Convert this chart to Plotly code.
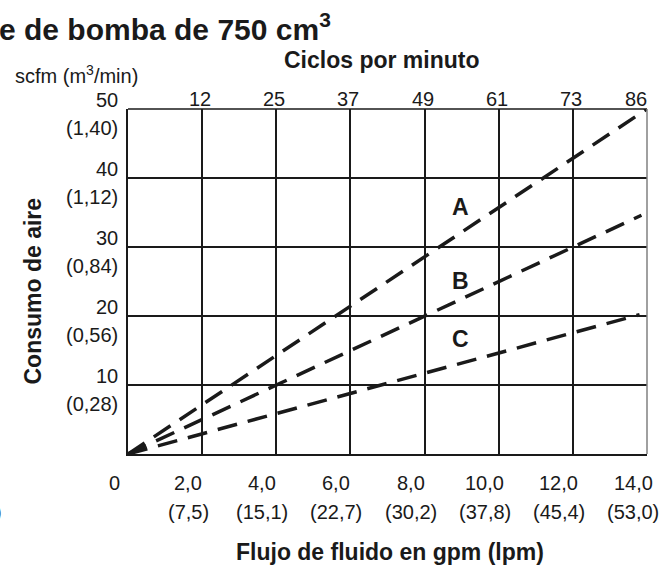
import plotly.graph_objects as go

# ---- data ----
gpm_ticks = [0, 2, 4, 6, 8, 10, 12, 14]
gpm_labels = ["0", "2,0", "4,0", "6,0", "8,0", "10,0", "12,0", "14,0"]
lpm_labels = ["", "(7,5)", "(15,1)", "(22,7)", "(30,2)", "(37,8)", "(45,4)", "(53,0)"]
cycle_pos = [2, 4, 6, 8, 10, 12, 14]
cycle_labels = ["12", "25", "37", "49", "61", "73", "86"]
scfm_ticks = [10, 20, 30, 40, 50]
scfm_labels = ["10", "20", "30", "40", "50"]
m3_labels = ["(0,28)", "(0,56)", "(0,84)", "(1,12)", "(1,40)"]

flow_A = [0, 14.0]
air_A = [0, 50.0]
flow_B = [0, 13.85]
air_B = [0, 34.6]
flow_C = [0, 13.8]
air_C = [0, 20.2]

curve_names = ["A", "B", "C"]
label_x = [8.96, 8.96, 8.96]
label_y = [35.8, 25.1, 16.7]

FONT = "Liberation Sans, Arial, sans-serif"
INK = "#1a1a1a"
TICK = 20
BOLD = 23

fig = go.Figure()
for xs, ys, nm in [(flow_A, air_A, "A"), (flow_B, air_B, "B"), (flow_C, air_C, "C")]:
    fig.add_trace(go.Scatter(x=xs, y=ys, mode="lines", name=nm,
                             line=dict(color=INK, width=3.5, dash="20px,11px"),
                             showlegend=False, hoverinfo="skip"))

ann = []
for nm, lx, ly in zip(curve_names, label_x, label_y):
    ann.append(dict(x=lx, y=ly, xref="x", yref="y", text=f"<b>{nm}</b>", showarrow=False,
                    font=dict(size=BOLD, color=INK, family=FONT)))
for v, t1, t2 in zip(gpm_ticks, gpm_labels, lpm_labels):
    ann.append(dict(x=v, y=0, xref="x", yref="paper", text=t1, showarrow=False,
                    xanchor="center", xshift=-14, yshift=-29, yanchor="middle",
                    font=dict(size=TICK, color=INK, family=FONT)))
    if t2:
        ann.append(dict(x=v, y=0, xref="x", yref="paper", text=t2, showarrow=False,
                        xanchor="center", xshift=-14, yshift=-58, yanchor="middle",
                        font=dict(size=TICK, color=INK, family=FONT)))
for v, t in zip(cycle_pos, cycle_labels):
    ann.append(dict(x=v, y=1, xref="x", yref="paper", text=t, showarrow=False,
                    xanchor="center", xshift=-11 if v == 14 else -2, yshift=10, yanchor="middle",
                    font=dict(size=TICK, color=INK, family=FONT)))
for v, t1, t2 in zip(scfm_ticks, scfm_labels, m3_labels):
    ann.append(dict(x=0, y=v, xref="paper", yref="y", text=t1, showarrow=False,
                    xanchor="right", xshift=-8, yshift=9, yanchor="middle",
                    font=dict(size=TICK, color=INK, family=FONT)))
    ann.append(dict(x=0, y=v, xref="paper", yref="y", text=t2, showarrow=False,
                    xanchor="right", xshift=-8, yshift=-19, yanchor="middle",
                    font=dict(size=TICK, color=INK, family=FONT)))

# paper x=0 -> px 128, y=0 -> px 454, y=1 -> px 109
ann.append(dict(x=0, y=1, xref="paper", yref="paper",
                text="<b>e de bomba de 750 cm<sup>3</sup></b>",
                showarrow=False, xanchor="left", xshift=-131, yanchor="middle", yshift=82,
                font=dict(size=30, color=INK, family=FONT)))
ann.append(dict(x=0.5, y=1, xref="paper", yref="paper", text="<b>Ciclos por minuto</b>",
                showarrow=False, xanchor="center", xshift=-6, yshift=49, yanchor="middle",
                font=dict(size=BOLD, color=INK, family=FONT)))
ann.append(dict(x=0, y=1, xref="paper", yref="paper", text="scfm (m<sup>3</sup>/min)",
                showarrow=False, xanchor="center", xshift=-52, yshift=35, yanchor="middle",
                font=dict(size=TICK, color=INK, family=FONT)))
ann.append(dict(x=0, y=0.5, xref="paper", yref="paper", text="<b>Consumo de aire</b>",
                showarrow=False, textangle=-90, xanchor="center", yanchor="middle",
                xshift=-96, yshift=-10,
                font=dict(size=BOLD, color=INK, family=FONT)))
ann.append(dict(x=0.5, y=0, xref="paper", yref="paper", text="<b>Flujo de fluido en gpm (lpm)</b>",
                showarrow=False, xanchor="center", xshift=2, yshift=-98, yanchor="middle",
                font=dict(size=BOLD, color=INK, family=FONT)))
ann.append(dict(x=0, y=0, xref="paper", yref="paper", text=")",
                showarrow=False, xanchor="right", xshift=-124, yshift=-58, yanchor="middle",
                font=dict(size=TICK, color=INK, family=FONT)))

shapes = [
    dict(type="line", xref="paper", yref="paper", x0=0, x1=1, y0=1, y1=1,
         line=dict(color=INK, width=1.5)),
    dict(type="line", xref="paper", yref="paper", x0=1, x1=1, y0=0, y1=1,
         line=dict(color="#808080", width=1.5)),
]

fig.update_layout(
    width=672, height=569,
    margin=dict(l=128, r=25, t=109, b=115),
    paper_bgcolor="white", plot_bgcolor="white",
    font=dict(family=FONT, color=INK),
    xaxis=dict(range=[0, 14], tick0=0, dtick=2, showgrid=True, gridcolor=INK, gridwidth=1.5,
               showticklabels=False, ticks="", zeroline=False, showline=True,
               linecolor=INK, linewidth=1.5, fixedrange=True),
    yaxis=dict(range=[0, 50], tick0=0, dtick=10, showgrid=True, gridcolor=INK, gridwidth=1.5,
               showticklabels=False, ticks="", zeroline=False, showline=True,
               linecolor=INK, linewidth=1.5, fixedrange=True),
    annotations=ann, shapes=shapes,
)

fig.write_html("out.html", config={"displayModeBar": False},
               post_script="document.body.style.margin='0';document.body.style.padding='0';"
                           "document.body.style.overflow='hidden';")
